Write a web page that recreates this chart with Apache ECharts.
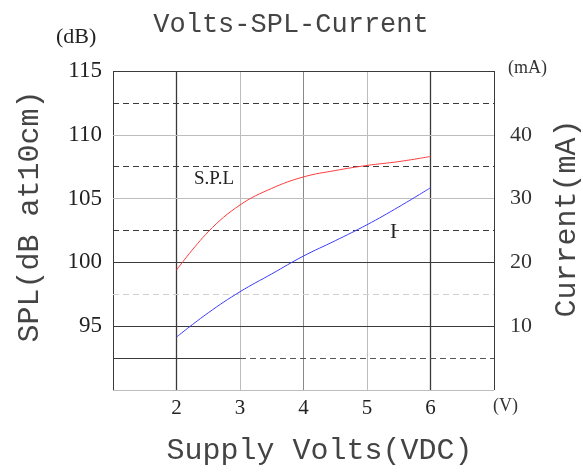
<!DOCTYPE html>
<html><head><meta charset="utf-8">
<script src="https://cdn.jsdelivr.net/npm/echarts@6/dist/echarts.min.js"></script>
<style>html,body{margin:0;padding:0;background:#fff}#c{width:583px;height:474px}</style>
</head><body><div id="c"></div>
<script>
const volts = [2, 2.5, 3, 3.5, 4, 4.5, 5, 5.5, 6];
const splDb = [99.4, 102.4, 104.5, 105.8, 106.7, 107.2, 107.6, 107.9, 108.3];
const currentMa = [8.3, 12.1, 15.4, 18.2, 21.0, 23.4, 25.9, 28.7, 31.7];
const xTicks = [2, 3, 4, 5, 6];
const dbTicks = [95, 100, 105, 110, 115];
const maTicks = [10, 20, 30, 40];

const SERIF = '"Liberation Serif","DejaVu Serif",serif';
const MONO = '"Liberation Mono","DejaVu Sans Mono",monospace';

const dark = '#3a3a3a', gray = '#bdbdbd', mid = '#8a8a8a';
function vl(x, c, w) { return { xAxis: x, lineStyle: { color: c, width: w || 1, type: 'solid' } }; }
function hl(y, c, t) { return { yAxis: y, lineStyle: { color: c, width: 1, type: t } }; }
const dash = [6, 4];
const gridLines = [
  vl(1, dark), vl(2, dark, 1.3), vl(3, gray), vl(4, mid), vl(5, gray), vl(6, dark, 1.3), vl(7, dark),
  hl(90, gray, 'solid'), hl(95, dark, 'solid'), hl(97.5, '#d0d0d0', dash), hl(100, dark, 'solid'),
  hl(102.5, dark, dash), hl(105, gray, 'solid'), hl(107.5, dark, dash), hl(110, gray, 'solid'),
  hl(112.5, dark, dash), hl(115, dark, 'solid'),
  [{ coord: [1, 92.5], lineStyle: { color: dark, width: 1, type: 'solid' } }, { coord: [3, 92.5] }],
  [{ coord: [3, 92.5], lineStyle: { color: '#555', width: 1, type: dash } }, { coord: [7, 92.5] }]
];

const chart = echarts.init(document.getElementById('c'), null, { renderer: 'canvas' });
chart.setOption({
  animation: false,
  title: {
    text: 'Volts-SPL-Current', left: 286, top: 6, textAlign: 'center',
    textStyle: { fontFamily: MONO, fontSize: 27, fontWeight: 'normal', color: '#444' }
  },
  grid: { left: 113, right: 89, top: 71, bottom: 84, containLabel: false, outerBoundsMode: 'none' },
  xAxis: {
    type: 'value', min: 1, max: 7, interval: 1,
    name: 'Supply Volts(VDC)', nameLocation: 'middle', nameGap: 46, nameMoveOverlap: false,
    nameTextStyle: { fontFamily: MONO, fontSize: 30, color: '#444', padding: [0, 0, 0, 32] },
    axisLine: { show: false }, axisTick: { show: false }, splitLine: { show: false },
    axisLabel: {
      margin: 8, fontFamily: SERIF, fontSize: 21, color: '#222',
      formatter: v => xTicks.includes(v) ? String(v) : ''
    }
  },
  yAxis: [{
    type: 'value', min: 90, max: 115, interval: 5,
    name: 'SPL(dB at10cm)', nameLocation: 'middle', nameGap: 68, nameRotate: 90, nameMoveOverlap: false,
    nameTextStyle: { fontFamily: MONO, fontSize: 30, color: '#444', padding: [0, 0, 0, 28] },
    axisLine: { show: false }, axisTick: { show: false }, splitLine: { show: false },
    axisLabel: {
      margin: 11, fontFamily: SERIF, fontSize: 23, color: '#222',
      formatter: v => dbTicks.includes(v) ? String(v) : ''
    }
  }, {
    type: 'value', min: 0, max: 50, interval: 10, position: 'right',
    name: 'Current(mA)', nameLocation: 'middle', nameGap: 58, nameRotate: 90, nameMoveOverlap: false,
    nameTextStyle: { fontFamily: MONO, fontSize: 30, color: '#444', padding: [0, 0, 0, 24] },
    axisLine: { show: false }, axisTick: { show: false }, splitLine: { show: false },
    axisLabel: {
      margin: 16, fontFamily: SERIF, fontSize: 22, color: '#333', padding: [8, 0, 0, 0],
      formatter: v => maTicks.includes(v) ? String(v) : ''
    }
  }],
  graphic: [
    { type: 'text', left: 56, top: 26, style: { text: '(dB)', font: '22px ' + SERIF, fill: '#222' } },
    { type: 'text', left: 508, top: 59, style: { text: '(mA)', font: '18px ' + SERIF, fill: '#333' } },
    { type: 'text', left: 493, top: 397, style: { text: '(V)', font: '18px ' + SERIF, fill: '#333' } },
    { type: 'text', left: 194, top: 170, style: { text: 'S.P.L', font: '19px ' + SERIF, fill: '#222' } },
    { type: 'text', left: 390, top: 222, style: { text: 'I', font: '21px ' + SERIF, fill: '#222' } }
  ],
  series: [{
    type: 'line', name: 'S.P.L', yAxisIndex: 0, smooth: 0.4, showSymbol: false,
    data: volts.map((v, i) => [v, splDb[i]]),
    lineStyle: { color: '#ff3b3b', width: 1 }, z: 5,
    markLine: { silent: true, symbol: 'none', label: { show: false }, animation: false, data: gridLines, z: 1 }
  }, {
    type: 'line', name: 'I', yAxisIndex: 1, smooth: 0.4, showSymbol: false,
    data: volts.map((v, i) => [v, currentMa[i]]),
    lineStyle: { color: '#3b3bff', width: 1 }, z: 5
  }]
});
</script></body></html>
